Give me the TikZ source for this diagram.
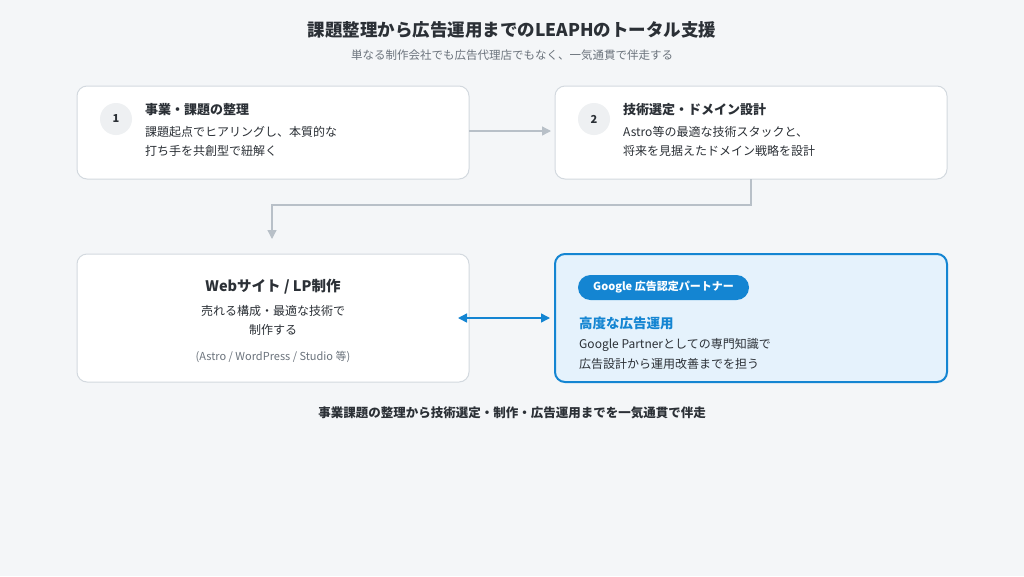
\documentclass[tikz,border=0pt]{standalone}
\usepackage{fontspec}
\setmainfont{Noto Sans CJK JP}
\usetikzlibrary{arrows.meta}
\definecolor{bg}{HTML}{F4F6F8}
\definecolor{bord}{HTML}{D3D9DF}
\definecolor{txt}{HTML}{2B3036}
\definecolor{gr}{HTML}{6B737C}
\definecolor{blu}{HTML}{1485D2}
\definecolor{lblu}{HTML}{E5F2FC}
\definecolor{cir}{HTML}{EEF0F2}
\definecolor{arr}{HTML}{B8C0C8}
\begin{document}
\begin{tikzpicture}[x=1pt,y=-1pt,
 box/.style={draw=bord,line width=1pt,fill=white,rounded corners=10pt},
 num/.style={circle,fill=cir,minimum size=32pt,inner sep=0pt,font=\fontsize{11}{13}\selectfont\bfseries,text=txt},
 ttl/.style={anchor=west,font=\fontsize{13}{15}\selectfont\bfseries,text=txt,inner sep=0pt},
 bod/.style={anchor=west,font=\fontsize{12}{14}\selectfont,text=txt,inner sep=0pt},
 ga/.style={draw=arr,line width=1.3pt,-{Triangle[length=9pt,width=9pt]}}]
\path[fill=bg] (0,0) rectangle (1024,576);
\useasboundingbox (0,0) rectangle (1024,576);
\node[font=\fontsize{17.5}{20}\selectfont\bfseries,text=txt] (t) at (512,30) {課題整理から広告運用までのLEAPHのトータル支援};
\node[font=\fontsize{11.5}{14}\selectfont,text=gr] (st) at (512,55) {単なる制作会社でも広告代理店でもなく、一気通貫で伴走する};
% box1
\draw[box] (77,86) rectangle (469,179); \coordinate (b1e) at (469,131);
\node[num] (n1) at (116,119) {1};
\node[ttl] (h1) at (145,110) {事業・課題の整理};
\node[bod] (l1a) at (145,132) {課題起点でヒアリングし、本質的な};
\node[bod] (l1b) at (145,151) {打ち手を共創型で紐解く};
% box2
\draw[box] (555,86) rectangle (947,179); \coordinate (b2w) at (551,131);
\node[num] (n2) at (594,119) {2};
\node[ttl] (h2) at (623,110) {技術選定・ドメイン設計};
\node[bod] (l2a) at (623,132) {Astro等の最適な技術スタックと、};
\node[bod] (l2b) at (623,151) {将来を見据えたドメイン戦略を設計};
\draw[ga] (b1e) -- (b2w);
\coordinate (b2s) at (751,179); \coordinate (b3n) at (272,239);
\draw[ga] (b2s) -- (751,205) -- (272,205) -- (b3n);
% box3
\draw[box] (77,254) rectangle (469,382);
\node[font=\fontsize{14.5}{17}\selectfont\bfseries,text=txt] (h3) at (273,287) {Webサイト / LP制作};
\node[font=\fontsize{12}{14}\selectfont,text=txt] (l3a) at (273,311) {売れる構成・最適な技術で};
\node[font=\fontsize{12}{14}\selectfont,text=txt] (l3b) at (273,330) {制作する};
\node[font=\fontsize{11}{13}\selectfont,text=gr] (l3c) at (273,357) {(Astro / WordPress / Studio 等)};
% box4
\draw[draw=blu,line width=2pt,fill=lblu,rounded corners=10pt] (555,254) rectangle (947,382);
\node[fill=blu,rounded corners=12.5pt,minimum width=171pt,minimum height=25pt,text=white,font=\fontsize{11}{13}\selectfont\bfseries] (pill) at (663.5,287.5) {Google 広告認定パートナー};
\node[anchor=west,inner sep=0pt,font=\fontsize{13.5}{16}\selectfont\bfseries,text=blu] (h4) at (579,323) {高度な広告運用};
\node[bod] (l4a) at (579,345) {Google Partnerとしての専門知識で};
\node[bod] (l4b) at (579,364) {広告設計から運用改善までを担う};
\coordinate (da) at (458,318); \coordinate (db) at (550,318);
\draw[draw=blu,line width=1.5pt,{Triangle[length=9pt,width=9pt]}-{Triangle[length=9pt,width=9pt]}] (da) -- (db);
\node[font=\fontsize{12.5}{14}\selectfont\bfseries,text=txt] (ft) at (512,413) {事業課題の整理から技術選定・制作・広告運用までを一気通貫で伴走};
\end{tikzpicture}
\end{document}
